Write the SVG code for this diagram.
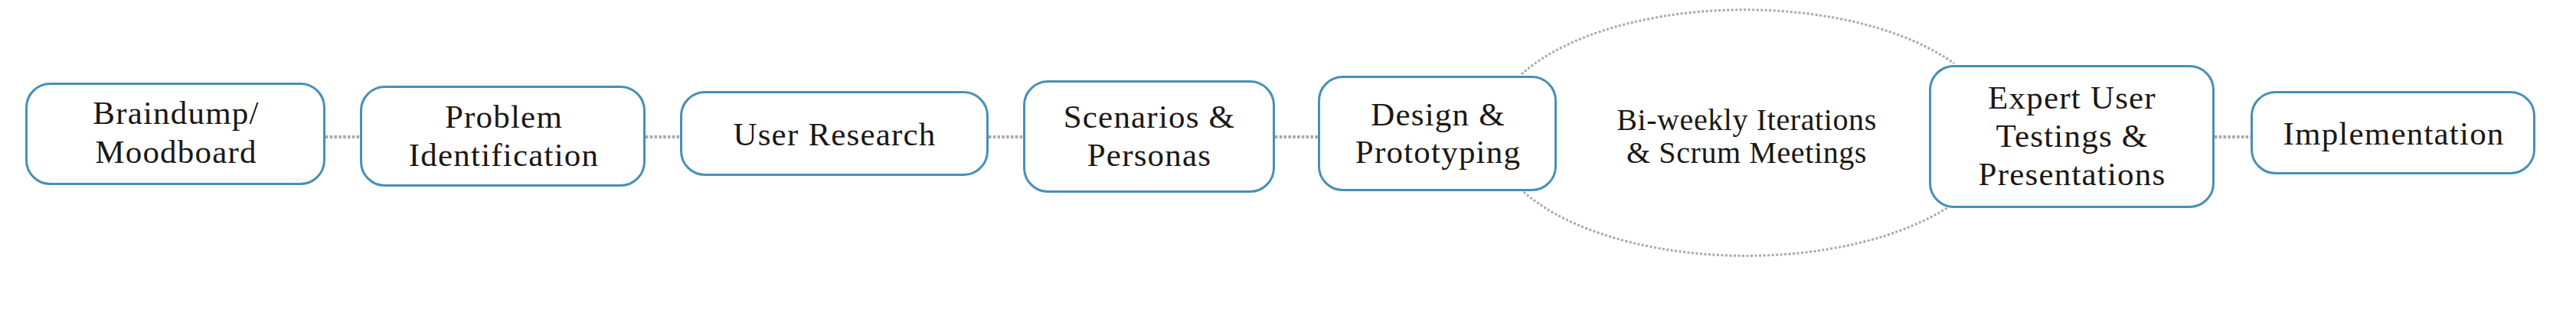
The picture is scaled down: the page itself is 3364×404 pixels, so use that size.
<svg xmlns="http://www.w3.org/2000/svg" width="3364" height="404" viewBox="0 0 3364 404">
<style>
.box{fill:#ffffff;stroke:#4690b7;stroke-width:3}
.t{font-family:"Liberation Serif","Times New Roman",serif;font-size:43px;letter-spacing:1.2px;fill:#1c1714;text-anchor:middle}
.m{font-family:"Liberation Serif","Times New Roman",serif;font-size:40px;letter-spacing:0.6px;fill:#1c1714;text-anchor:middle}
.c{fill:none;stroke:#a8a8a8;stroke-width:4;stroke-dasharray:3.5 2.3}
.a{fill:none;stroke:#a8a8a8;stroke-width:3;stroke-dasharray:3 2.5}
</style>
<rect width="3364" height="404" fill="#ffffff"/>
<g id="connectors">
<line class="c" x1="425" y1="179" x2="470" y2="179"/>
<line class="c" x1="843" y1="179" x2="888" y2="179"/>
<line class="c" x1="1291" y1="179" x2="1336" y2="179"/>
<line class="c" x1="1665" y1="179" x2="1721" y2="179"/>
<line class="c" x1="2892" y1="179" x2="2939" y2="179"/>
<path class="a" d="M1987,97 A330,159 0 0 1 2552,83"/>
<path class="a" d="M1990,251 A330,159 0 0 0 2544,271"/>
</g>
<g id="n1">
<rect class="box" x="34.5" y="109.5" width="389" height="131" rx="31"/>
<text class="t" x="230" y="162">Braindump/</text>
<text class="t" x="230" y="213">Moodboard</text>
</g>
<g id="n2">
<rect class="box" x="471.5" y="113.5" width="370" height="129" rx="31"/>
<text class="t" x="658" y="167">Problem</text>
<text class="t" x="658" y="217">Identification</text>
</g>
<g id="n3">
<rect class="box" x="889.5" y="120.5" width="400" height="108" rx="31"/>
<text class="t" x="1090" y="190">User Research</text>
</g>
<g id="n4">
<rect class="box" x="1337.5" y="106.5" width="326" height="144" rx="31"/>
<text class="t" x="1501" y="167">Scenarios &amp;</text>
<text class="t" x="1501" y="217">Personas</text>
</g>
<g id="n5">
<rect class="box" x="1722.5" y="100.5" width="309" height="148" rx="31"/>
<text class="t" x="1878" y="164">Design &amp;</text>
<text class="t" x="1878" y="213">Prototyping</text>
</g>
<g id="label">
<text class="m" x="2281" y="170">Bi-weekly Iterations</text>
<text class="m" x="2281" y="213">&amp; Scrum Meetings</text>
</g>
<g id="n6">
<rect class="box" x="2520.5" y="86.5" width="370" height="184" rx="31"/>
<text class="t" x="2706" y="142">Expert User</text>
<text class="t" x="2706" y="192">Testings &amp;</text>
<text class="t" x="2706" y="242">Presentations</text>
</g>
<g id="n7">
<rect class="box" x="2940.5" y="120.5" width="369" height="106" rx="31"/>
<text class="t" x="3126" y="189">Implementation</text>
</g>
</svg>
